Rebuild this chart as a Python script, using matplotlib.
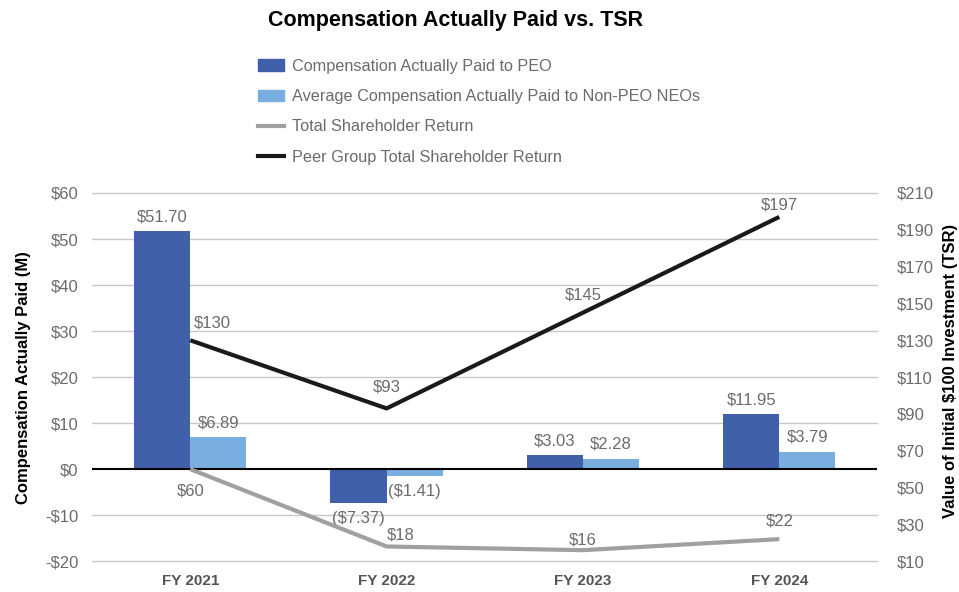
import matplotlib
matplotlib.use("Agg")
import matplotlib.pyplot as plt
import numpy as np
from matplotlib.patches import Patch
from matplotlib.lines import Line2D

plt.rcParams['font.family'] = ['Liberation Sans', 'DejaVu Sans']

years = ["FY 2021", "FY 2022", "FY 2023", "FY 2024"]
peo_cap = [51.70, -7.37, 3.03, 11.95]
neo_cap = [6.89, -1.41, 2.28, 3.79]
tsr = [60, 18, 16, 22]
peer_tsr = [130, 93, 145, 197]

left_ticks = [-20, -10, 0, 10, 20, 30, 40, 50, 60]
right_ticks = [10, 30, 50, 70, 90, 110, 130, 150, 170, 190, 210]

c_peo = "#4060AA"
c_neo = "#7AAEDE"
c_tsr = "#A0A0A0"
c_peer = "#1A1A1A"
c_text = "#6B6B6B"


def money(v, dec=2):
    if v < 0:
        return "(\\$%.*f)" % (dec, -v)
    return "\\$%.*f" % (dec, v)


fig = plt.figure(figsize=(9.59, 5.92), dpi=100)
ax = fig.add_axes([0.096, 0.052, 0.819, 0.622])
ax2 = ax.twinx()

x = np.arange(len(years))
w = 0.286

ax.set_ylim(-20, 60)
ax.set_xlim(-0.5, 3.5)
ax2.set_ylim(10, 210)

for t in left_ticks:
    if t != 0:
        ax.axhline(t, color="#C8C8C8", lw=1, zorder=0, clip_on=False)
ax.axhline(0, color="black", lw=1.5, zorder=3)

ax.bar(x - w / 2, peo_cap, w, color=c_peo, zorder=2)
ax.bar(x + w / 2, neo_cap, w, color=c_neo, zorder=2)

for i in range(len(years)):
    for xi, v in ((x[i] - w / 2, peo_cap[i]), (x[i] + w / 2, neo_cap[i])):
        if v >= 0:
            ax.annotate(money(v), (xi, v), xytext=(0, 5), textcoords="offset points",
                        ha="center", va="bottom", fontsize=12, color=c_text)
        else:
            ax.annotate(money(v), (xi, v), xytext=(0, -6), textcoords="offset points",
                        ha="center", va="top", fontsize=12, color=c_text)

ax2.plot(x, tsr, color=c_tsr, lw=3, solid_capstyle="butt", zorder=4)
ax2.plot(x, peer_tsr, color=c_peer, lw=3, solid_capstyle="butt", zorder=4)

# line value labels
tsr_off = [(0, -10, "top"), (10, 3, "bottom"), (0, 2, "bottom"), (0, 8, "bottom")]
peer_off = [(16, 7, "bottom"), (0, 10, "bottom"), (0, 7, "bottom"), (0, 3, "bottom")]
for i in range(len(years)):
    dx, dy, va = tsr_off[i]
    ax2.annotate("\\$%d" % tsr[i], (x[i], tsr[i]), xytext=(dx, dy), textcoords="offset points",
                 ha="center", va=va, fontsize=12, color=c_text)
    dx, dy, va = peer_off[i]
    ax2.annotate("\\$%d" % peer_tsr[i], (x[i], peer_tsr[i]), xytext=(dx, dy), textcoords="offset points",
                 ha="center", va=va, fontsize=12, color=c_text)

ax.set_xticks(x)
ax.set_xticklabels(years, fontsize=11, fontweight="bold", color="#555555")
ax.set_yticks(left_ticks)
ax.set_yticklabels([("-\\$%d" % -t) if t < 0 else "\\$%d" % t for t in left_ticks],
                   fontsize=12, color=c_text)
ax2.set_yticks(right_ticks)
ax2.set_yticklabels(["\\$%d" % t for t in right_ticks], fontsize=12, color=c_text)

ax.tick_params(axis="y", length=0, pad=10)
ax.tick_params(axis="x", length=0, pad=9)
ax2.tick_params(axis="y", length=0, pad=14)
for a in (ax, ax2):
    for s in a.spines.values():
        s.set_visible(False)

ax.set_ylabel("Compensation Actually Paid (M)", fontsize=12, fontweight="bold", labelpad=10)
fig.text(0.991, 0.373, "Value of Initial \\$100 Investment (TSR)", rotation=90,
         ha="center", va="center", fontsize=12, fontweight="bold")

fig.text(0.475, 0.965, "Compensation Actually Paid vs. TSR", ha="center", va="center",
         fontsize=15.5, fontweight="bold")

handles = [
    Patch(color=c_peo),
    Patch(color=c_neo),
    Line2D([], [], color=c_tsr, lw=3),
    Line2D([], [], color=c_peer, lw=3),
]
labels = [
    "Compensation Actually Paid to PEO",
    "Average Compensation Actually Paid to Non-PEO NEOs",
    "Total Shareholder Return",
    "Peer Group Total Shareholder Return",
]
leg = fig.legend(handles, labels, loc="upper left", bbox_to_anchor=(0.262, 0.912),
                 frameon=False, fontsize=11.7, labelspacing=0.95, handlelength=1.6,
                 handletextpad=0.5, borderaxespad=0)
for t in leg.get_texts():
    t.set_color(c_text)

fig.savefig("out.png", dpi=100)
